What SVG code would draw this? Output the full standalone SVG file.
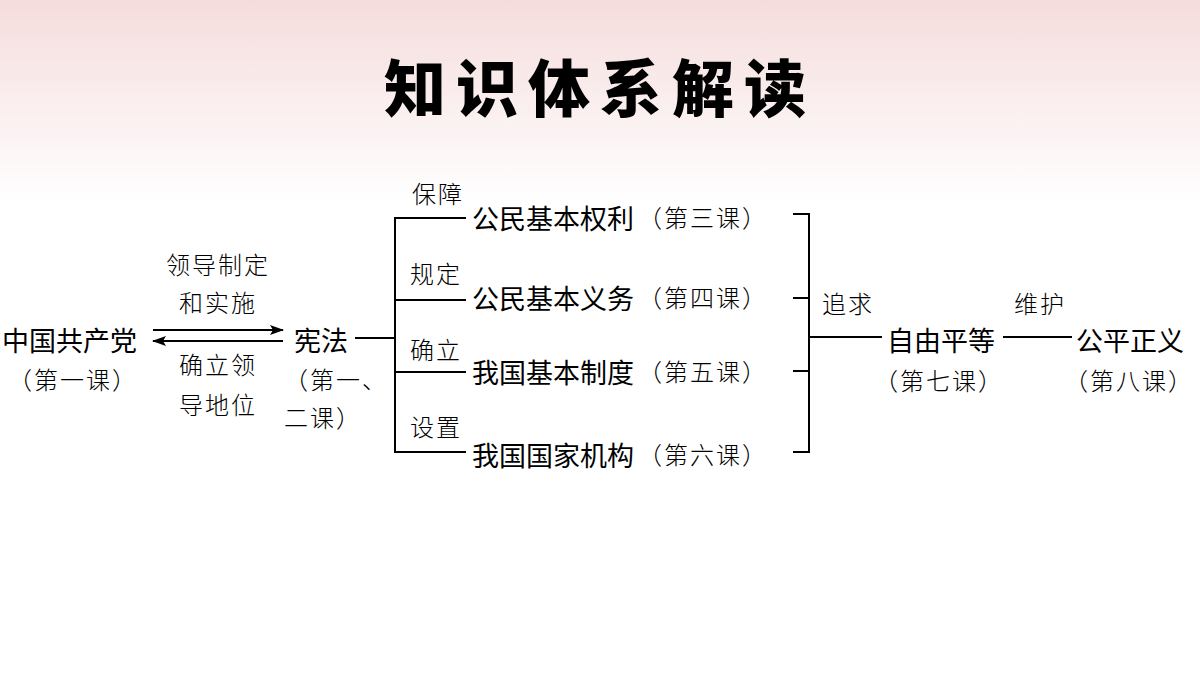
<svg xmlns="http://www.w3.org/2000/svg" width="1200" height="675" viewBox="0 0 1200 675">
<defs>
<linearGradient id="bg" x1="0" y1="0" x2="0" y2="1">
<stop offset="0" stop-color="#f5dcdc"/><stop offset="0.15" stop-color="#faeeee"/><stop offset="0.3" stop-color="#ffffff"/>
</linearGradient>
<marker id="ah" markerWidth="14" markerHeight="10" refX="13" refY="5" orient="auto" markerUnits="userSpaceOnUse"><path d="M0,0 L14,5 L0,10 L3,5 Z" fill="#000"/></marker>
<style>
text{font-family:"Noto Sans CJK SC",sans-serif;fill:#000}
.m{font-size:27px}
.s{font-size:24px;font-weight:300;letter-spacing:2px}
.l{stroke:#000;stroke-width:2;fill:none}
</style>
</defs>
<rect width="1200" height="675" fill="url(#bg)"/>
<text x="600" y="112" text-anchor="middle" style="font-size:62px;font-weight:900;letter-spacing:10px">知识体系解读</text>
<g id="connectors">
<line class="l" x1="153" y1="330" x2="283" y2="330" marker-end="url(#ah)"/>
<line class="l" x1="283" y1="341" x2="153" y2="341" marker-end="url(#ah)"/>
<line class="l" x1="355" y1="338" x2="395" y2="338"/>
<path class="l" d="M466,218 H395 V452 H466 M395,300 H466 M395,372 H466"/>
<path class="l" d="M793,214 H809 V452 H793 M793,298 H809 M793,371 H809 M809,337 H882"/>
<line class="l" x1="1003" y1="337" x2="1072" y2="337"/>
</g>
<g id="edge-labels">
<text class="s" x="218" y="274" text-anchor="middle">领导制定</text>
<text class="s" x="218" y="312" text-anchor="middle">和实施</text>
<text class="s" x="218" y="374" text-anchor="middle">确立领</text>
<text class="s" x="218" y="414" text-anchor="middle">导地位</text>
<text class="s" x="412" y="203">保障</text>
<text class="s" x="410" y="283">规定</text>
<text class="s" x="410" y="359">确立</text>
<text class="s" x="410" y="436">设置</text>
<text class="s" x="822" y="313">追求</text>
<text class="s" x="1014" y="313">维护</text>
</g>
<g id="n1"><text class="m" x="2" y="351">中国共产党</text><text class="s" x="8" y="389">（第一课）</text></g>
<g id="n2"><text class="m" x="294" y="351">宪法</text><text class="s" x="284" y="389">（第一、</text><text class="s" x="284" y="427">二课）</text></g>
<g id="n3"><text class="m" x="472" y="229">公民基本权利</text><text class="s" x="638" y="227">（第三课）</text></g>
<g id="n4"><text class="m" x="472" y="309">公民基本义务</text><text class="s" x="638" y="307">（第四课）</text></g>
<g id="n5"><text class="m" x="472" y="383">我国基本制度</text><text class="s" x="638" y="381">（第五课）</text></g>
<g id="n6"><text class="m" x="472" y="466">我国国家机构</text><text class="s" x="638" y="464">（第六课）</text></g>
<g id="n7"><text class="m" x="887" y="351">自由平等</text><text class="s" x="874" y="390">（第七课）</text></g>
<g id="n8"><text class="m" x="1076" y="351">公平正义</text><text class="s" x="1064" y="390">（第八课）</text></g>
</svg>
